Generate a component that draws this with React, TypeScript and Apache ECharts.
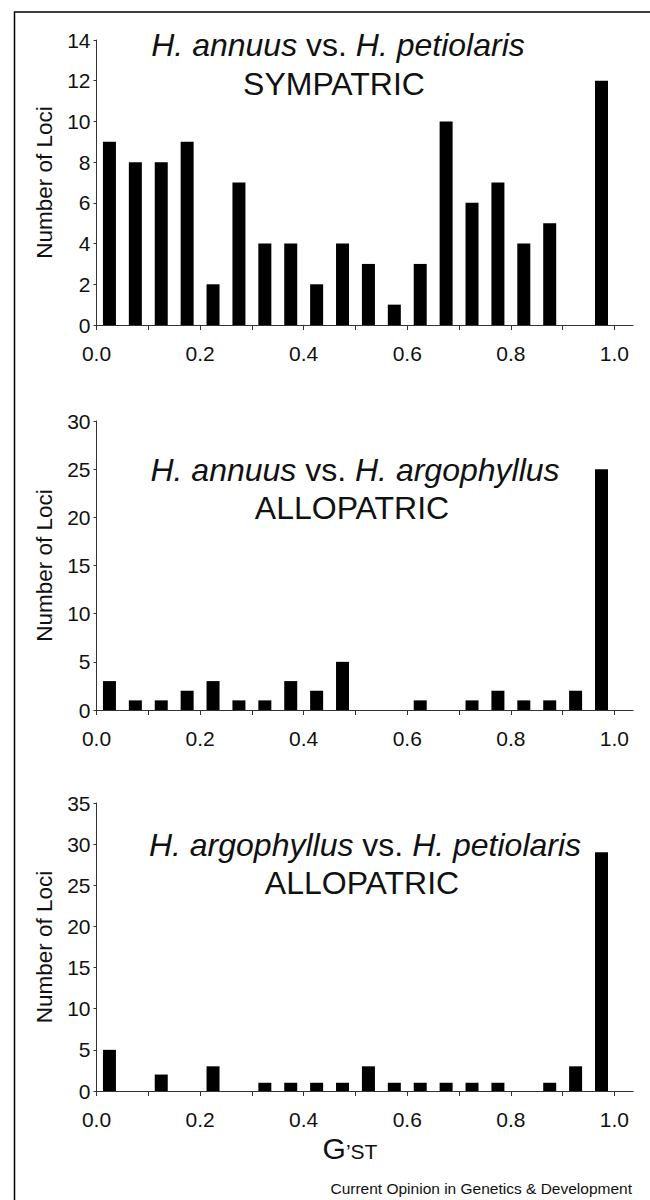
import React, { useEffect, useRef } from "react";
import * as echarts from "echarts";

// G'ST bin centres (bins of width 0.05)
const binCenters = [
  0.025, 0.075, 0.125, 0.175, 0.225, 0.275, 0.325, 0.375, 0.425, 0.475,
  0.525, 0.575, 0.625, 0.675, 0.725, 0.775, 0.825, 0.875, 0.925, 0.975,
];

// Number of loci per bin
const sympatricAnnuusPetiolaris = [9, 8, 8, 9, 2, 7, 4, 4, 2, 4, 3, 1, 3, 10, 6, 7, 4, 5, 0, 12];
const allopatricAnnuusArgophyllus = [3, 1, 1, 2, 3, 1, 1, 3, 2, 5, 0, 0, 1, 0, 1, 2, 1, 1, 2, 25];
const allopatricArgophyllusPetiolaris = [5, 0, 2, 0, 3, 0, 1, 1, 1, 1, 3, 1, 1, 1, 1, 1, 0, 1, 3, 29];

const xTickValues = [0, 0.1, 0.2, 0.3, 0.4, 0.5, 0.6, 0.7, 0.8, 0.9, 1.0];
const xLabelValues = [0, 0.2, 0.4, 0.6, 0.8, 1.0];

const yMaxes = [14, 30, 35];
const yIntervals = [2, 5, 5];

const panelTitles = [
  "{i|H. annuus} vs. {i|H. petiolaris}",
  "{i|H. annuus} vs. {i|H. argophyllus}",
  "{i|H. argophyllus} vs. {i|H. petiolaris}",
];
const panelSubtitles = ["SYMPATRIC", "ALLOPATRIC", "ALLOPATRIC"];
const yAxisName = "Number of Loci";
const footerText = "Current Opinion in Genetics & Development";

const FONT = "'Liberation Sans', Arial, Helvetica, sans-serif";
const TEXT = "#111";
const AXIS = "#333";

export default function App() {
  const ref = useRef<HTMLDivElement>(null);

  useEffect(() => {
    document.body.style.margin = "0";
    if (!ref.current) return;
    const chart = echarts.init(ref.current, undefined, { renderer: "svg" });

    const seriesValues = [
      sympatricAnnuusPetiolaris,
      allopatricAnnuusArgophyllus,
      allopatricArgophyllusPetiolaris,
    ];
    const gridTops = [40, 421, 803];
    const gridHeights = [285, 289, 288];
    const titleY = [[45, 84], [470, 508], [845, 883]];
    const titleX = [[338, 334], [355, 352], [365, 362]];

    const grids = gridTops.map((t, i) => ({
      left: 96.5,
      top: t,
      width: 536.6,
      height: gridHeights[i],
      outerBoundsMode: "none",
    }));

    const xAxes = gridTops.map((_, i) => ({
      type: "value",
      gridIndex: i,
      min: 0,
      max: 1.036,
      axisLine: { show: true, lineStyle: { color: AXIS, width: 1 } },
      axisTick: {
        show: true,
        customValues: xTickValues,
        length: 5,
        lineStyle: { color: AXIS, width: 1 },
      },
      axisLabel: {
        customValues: xLabelValues,
        formatter: (v: number) => v.toFixed(1),
        fontSize: 21,
        fontFamily: FONT,
        color: TEXT,
        margin: 18,
      },
      splitLine: { show: false },
    }));

    const yAxes = gridTops.map((_, i) => ({
      type: "value",
      gridIndex: i,
      min: 0,
      max: yMaxes[i],
      interval: yIntervals[i],
      axisLine: { show: true, lineStyle: { color: AXIS, width: 1 } },
      axisTick: { show: true, length: 3, lineStyle: { color: AXIS, width: 1 } },
      axisLabel: { fontSize: 21, fontFamily: FONT, color: TEXT, margin: 6 },
      splitLine: { show: false },
      name: yAxisName,
      nameLocation: "middle",
      nameGap: 40,
      nameTextStyle: { fontSize: 22.5, fontFamily: FONT, color: TEXT },
    }));

    const series = seriesValues.map((vals, i) => ({
      type: "bar",
      xAxisIndex: i,
      yAxisIndex: i,
      barWidth: 13,
      itemStyle: { color: "#000" },
      data: binCenters.map((x, j) => [x, vals[j]]),
    }));

    const titleGraphics: any[] = [];
    panelTitles.forEach((t, i) => {
      titleGraphics.push({
        type: "text",
        x: titleX[i][0],
        y: titleY[i][0],
        style: {
          text: t,
          textAlign: "center",
          textVerticalAlign: "middle",
          fontSize: 32,
          fontFamily: FONT,
          fill: TEXT,
          rich: { i: { fontStyle: "italic", fontSize: 32, fontFamily: FONT, fill: TEXT } },
        },
      });
      titleGraphics.push({
        type: "text",
        x: titleX[i][1],
        y: titleY[i][1],
        style: {
          text: panelSubtitles[i],
          textAlign: "center",
          textVerticalAlign: "middle",
          fontSize: 32,
          fontFamily: FONT,
          fill: TEXT,
        },
      });
    });

    chart.setOption({
      animation: false,
      backgroundColor: "#fff",
      grid: grids,
      xAxis: xAxes,
      yAxis: yAxes,
      series,
      graphic: [
        {
          type: "rect",
          shape: { x: 14.5, y: 12, width: 700, height: 1300 },
          style: { fill: "none", stroke: "#000", lineWidth: 1.5 },
          silent: true,
        },
        ...titleGraphics,
        {
          type: "text",
          x: 350,
          y: 1163,
          style: {
            text: "{g|G}{s|\u2019ST}",
            textAlign: "center",
            textVerticalAlign: "bottom",
            fontFamily: FONT,
            fill: TEXT,
            rich: {
              g: { fontSize: 30, fontFamily: FONT, fill: TEXT, verticalAlign: "bottom" },
              s: { fontSize: 21, fontFamily: FONT, fill: TEXT, verticalAlign: "bottom", padding: [0, 0, 1, 0] },
            },
          },
        },
        {
          type: "text",
          x: 632,
          y: 1188,
          style: {
            text: footerText,
            textAlign: "right",
            textVerticalAlign: "middle",
            fontSize: 15.5,
            fontFamily: FONT,
            fill: TEXT,
          },
        },
      ],
    });

    return () => chart.dispose();
  }, []);

  return <div ref={ref} style={{ width: 650, height: 1200, overflow: "hidden" }} />;
}
